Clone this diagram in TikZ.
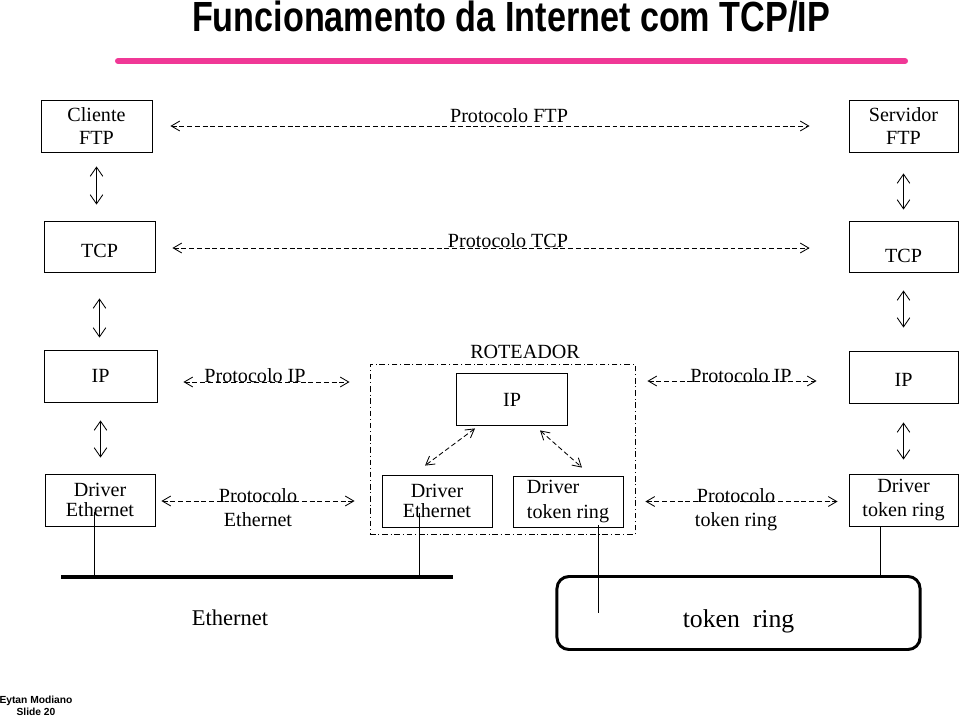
\documentclass[tikz,border=0pt]{standalone}
\usepackage{fontspec}
\setmainfont{Liberation Serif}
\setsansfont{Liberation Sans}
\usepackage{xcolor}
\usetikzlibrary{arrows.meta,calc}
\definecolor{rulepink}{RGB}{240,56,150}

\begin{document}
\begin{tikzpicture}[x=0.025cm,y=-0.025cm,
    box/.style={draw,line width=0.6pt,inner sep=0pt,align=center,
        font=\fontsize{14.3}{16.5}\selectfont},
    lbl/.style={inner sep=0pt,align=center,font=\fontsize{14.3}{17}\selectfont},
    updown/.style={{Straight Barb[length=6.5pt,width=9pt]}-{Straight Barb[length=6.5pt,width=9pt]},line width=0.6pt},
    proto/.style={{Straight Barb[length=6pt,width=7pt]}-{Straight Barb[length=6pt,width=7pt]},
        dash pattern=on 3.5pt off 2pt,line width=0.6pt},
    tap/.style={line width=0.6pt}]
    \useasboundingbox (0,0) rectangle (960,717);

    % titulo
    \node[font=\sffamily\bfseries\fontsize{30}{34}\selectfont,xscale=0.81,inner sep=0pt] (title) at (511,17) {Funcionamento da Internet com TCP/IP};
    \draw[rulepink,line width=4.3pt,line cap=round] (118,61) -- (905,61);

    % camadas
    \node[box,minimum width=2.775cm,minimum height=1.3cm] (cliFTP) at (96.5,126) {Cliente\\FTP};
    \node[box,minimum width=2.725cm,minimum height=1.3cm] (srvFTP) at (903.5,126) {Servidor\\FTP};
    \node[box,minimum width=2.775cm,minimum height=1.275cm,text height=15.9pt,text depth=0pt] (tcpL) at (99.5,246.5) {TCP};
    \node[box,minimum width=2.725cm,minimum height=1.275cm,text height=23.1pt,text depth=0pt] (tcpR) at (903.5,246.5) {TCP};
    \node[box,minimum width=2.825cm,minimum height=1.3cm] (ipL) at (100.5,376) {IP};
    \node[box,minimum width=2.725cm,minimum height=1.3cm,text height=13.8pt,text depth=0pt] (ipR) at (903.5,377) {IP};
    \node[box,minimum width=2.775cm,minimum height=1.3cm,text height=11pt,text depth=0pt] (ipRt) at (512,399) {IP};
    \node[box,minimum width=2.75cm,minimum height=1.3cm,font=\fontsize{14.3}{14.5}\selectfont] (ethL) at (100,500) {Driver\\Ethernet};
    \node[box,minimum width=2.75cm,minimum height=1.3cm,font=\fontsize{14.3}{14.5}\selectfont] (ethRt) at (437,501) {Driver\\Ethernet};
    \node[box,minimum width=2.75cm,minimum height=1.275cm,align=left,font=\fontsize{14.3}{18}\selectfont] (trRt) at (568,501.5) {Driver\\token ring};
    \node[box,minimum width=2.725cm,minimum height=1.3cm] (trR) at (903.5,500) {Driver\\token ring};

    % roteador
    \node[draw,line width=0.6pt,dash pattern=on 4pt off 2pt on 0.7pt off 2pt,minimum width=6.625cm,minimum height=4.25cm] (rtr) at (502.5,449.5) {};
    \node[lbl] (rtrName) at (525,352) {ROTEADOR};

    % setas verticais
    \draw[updown,shorten <=0.35cm,shorten >=0.4cm] (cliFTP.south) -- (cliFTP.south |- tcpL.north);
    \draw[updown,shorten <=0.65cm,shorten >=0.3cm] (tcpL.south) -- (tcpL.south |- ipL.north);
    \draw[updown,shorten <=0.45cm,shorten >=0.4cm] (ipL.south) -- (ipL.south |- ethL.north);
    \draw[updown,shorten <=0.525cm,shorten >=0.275cm] (srvFTP.south) -- (srvFTP.south |- tcpR.north);
    \draw[updown,shorten <=0.45cm,shorten >=0.575cm] (tcpR.south) -- (tcpR.south |- ipR.north);
    \draw[updown,shorten <=0.475cm,shorten >=0.35cm] (ipR.south) -- (ipR.south |- trR.north);

    % protocolos
    \draw[proto,shorten <=0.45cm,shorten >=0.975cm] (cliFTP.east) -- (cliFTP.east -| srvFTP.west);
    \node[lbl] (pFTP) at (509,116) {Protocolo FTP};
    \draw[proto,shorten <=0.425cm,shorten >=0.975cm] ($(tcpL.east)+(0,1.5)$) -- ($(tcpL.east -| tcpR.west)+(0,1.5)$);
    \node[lbl] (pTCP) at (508,241) {Protocolo TCP};
    \draw[proto,shorten <=0.65cm,shorten >=0.5cm] ($(ipL.east)+(0,6)$) -- ($(ipL.east -| rtr.west)+(0,6)$);
    \node[lbl] (pIPL) at (255,376) {Protocolo IP};
    \draw[proto,shorten <=0.3cm,shorten >=0.8cm] ($(rtr.east |- ipR.east)+(0,4)$) -- ($(ipR.west)+(0,4)$);
    \node[lbl] (pIPR) at (741,376) {Protocolo IP};
    \draw[proto,shorten <=0.15cm,shorten >=0.675cm] ($(ethL.east)+(0,1)$) -- ($(ethL.east -| ethRt.west)+(0,1)$);
    \node[lbl] (pEth) at (258,508) {Protocolo\\Ethernet};
    \draw[proto,shorten <=0.55cm,shorten >=0.275cm] (trRt.east) -- (trRt.east -| trR.west);
    \node[lbl] (pTR) at (736,510) {Protocolo\\token ring};

    % dentro do roteador
    \draw[proto] ($(ipRt.south)+(-37,3)$) -- ($(ethRt.north)+(-12,-9)$);
    \draw[proto] ($(ipRt.south)+(28,5)$) -- ($(trRt.north)+(14,-8)$);

    % redes
    \coordinate (busL) at (61,577);
    \coordinate (busR) at (453,577);
    \draw[line width=2.8pt] (busL) -- (busR);
    \node[inner sep=0pt,font=\fontsize{16}{18}\selectfont] (ethNet) at (230,618) {Ethernet};
    \node[draw,line width=2.1pt,rounded corners=0.3cm,minimum width=9.075cm,minimum height=1.825cm,
        font=\fontsize{18.3}{22}\selectfont,text height=24pt,text depth=4pt] (ring) at (738.5,613) {token~~ring};

    \coordinate (tapA) at (94,512);
    \coordinate (tapB) at (419,513);
    \coordinate (tapC) at (598,525);
    \coordinate (tapD) at (880,527);
    \draw[tap] (tapA) -- (tapA |- busL);
    \draw[tap] (tapB) -- (tapB |- busL);
    \draw[tap] (tapC) -- (tapC |- ring.center);
    \draw[tap] (tapD) -- (tapD |- ring.north);

    % rodape
    \node[font=\sffamily\bfseries\fontsize{7.3}{8.7}\selectfont,align=center,inner sep=0pt] (foot) at (36,706) {Eytan Modiano\\Slide 20};
\end{tikzpicture}
\end{document}
